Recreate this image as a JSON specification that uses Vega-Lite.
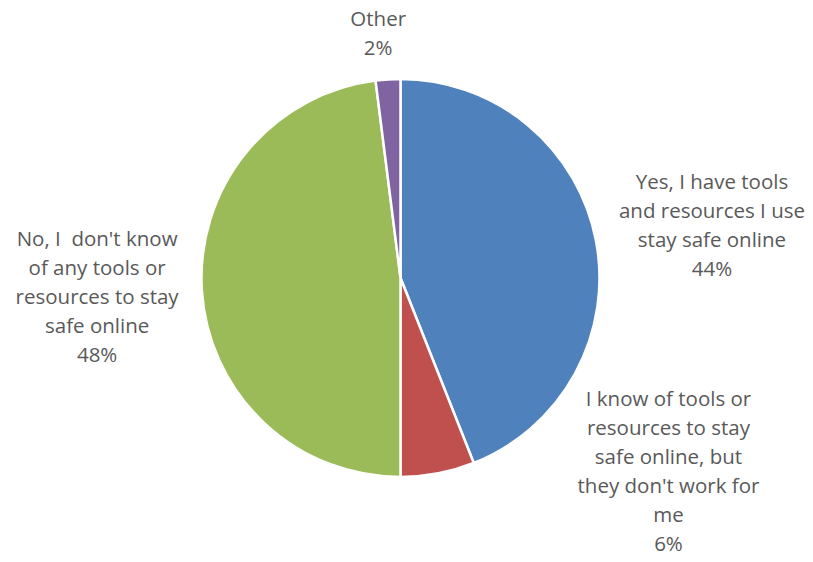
{
  "$schema": "https://vega.github.io/schema/vega-lite/v6.json",
  "width": 801,
  "height": 556,
  "autosize": "none",
  "padding": {"left": 0, "right": 12, "top": 0, "bottom": 6},
  "background": "white",
  "config": {"view": {"stroke": null}},
  "data": {
    "values": [
      {"answer": "Yes, I have tools|and resources I use|stay safe online", "key": "Yes", "value": 44, "order": 1},
      {"answer": "I know of tools or|resources to stay|safe online, but|they don't work for|me", "key": "Know", "value": 6, "order": 2},
      {"answer": "No, I\u00a0 don't know|of any tools or|resources to stay|safe online", "key": "No", "value": 48, "order": 3},
      {"answer": "Other", "key": "Other", "value": 2, "order": 4}
    ]
  },
  "transform": [
    {"calculate": "datum.answer + '|' + datum.value + '%'", "as": "labelText"},
    {"stack": "value", "groupby": [], "sort": [{"field": "order", "order": "ascending"}], "as": ["v0", "v1"]},
    {"calculate": "(datum.v0 + datum.v1) / 2", "as": "mid"}
  ],
  "layer": [
    {
      "mark": {"type": "arc", "radius": 199, "stroke": "white", "strokeWidth": 2.5},
      "encoding": {
        "theta": {"field": "v0", "type": "quantitative", "scale": {"domain": [0, 100]}},
        "theta2": {"field": "v1"},
        "color": {
          "field": "key",
          "type": "nominal",
          "scale": {"domain": ["Yes", "Know", "No", "Other"], "range": ["#4F81BD", "#C0504D", "#9BBB59", "#8064A2"]},
          "legend": null
        }
      }
    },
    {
      "transform": [{"filter": "datum.key == 'Yes'"}],
      "mark": {"type": "text", "radius": 312, "dx": 5, "dy": -37, "lineBreak": "|", "lineHeight": 29, "font": "Open Sans", "fontSize": 20.5, "color": "#595959", "align": "center", "baseline": "middle"},
      "encoding": {"theta": {"field": "mid", "type": "quantitative", "scale": {"domain": [0, 100]}}, "text": {"field": "labelText"}}
    },
    {
      "transform": [{"filter": "datum.key == 'Know'"}],
      "mark": {"type": "text", "radius": 240, "dx": 223, "dy": -114, "lineBreak": "|", "lineHeight": 29, "font": "Open Sans", "fontSize": 20.5, "color": "#595959", "align": "center", "baseline": "middle"},
      "encoding": {"theta": {"field": "mid", "type": "quantitative", "scale": {"domain": [0, 100]}}, "text": {"field": "labelText"}}
    },
    {
      "transform": [{"filter": "datum.key == 'No'"}],
      "mark": {"type": "text", "radius": 304, "dy": -57, "lineBreak": "|", "lineHeight": 29, "font": "Open Sans", "fontSize": 20.5, "color": "#595959", "align": "center", "baseline": "middle"},
      "encoding": {"theta": {"field": "mid", "type": "quantitative", "scale": {"domain": [0, 100]}}, "text": {"field": "labelText"}}
    },
    {
      "transform": [{"filter": "datum.key == 'Other'"}],
      "mark": {"type": "text", "radius": 244, "dx": -7, "dy": -14, "lineBreak": "|", "lineHeight": 29, "font": "Open Sans", "fontSize": 20.5, "color": "#595959", "align": "center", "baseline": "middle"},
      "encoding": {"theta": {"field": "mid", "type": "quantitative", "scale": {"domain": [0, 100]}}, "text": {"field": "labelText"}}
    }
  ]
}
